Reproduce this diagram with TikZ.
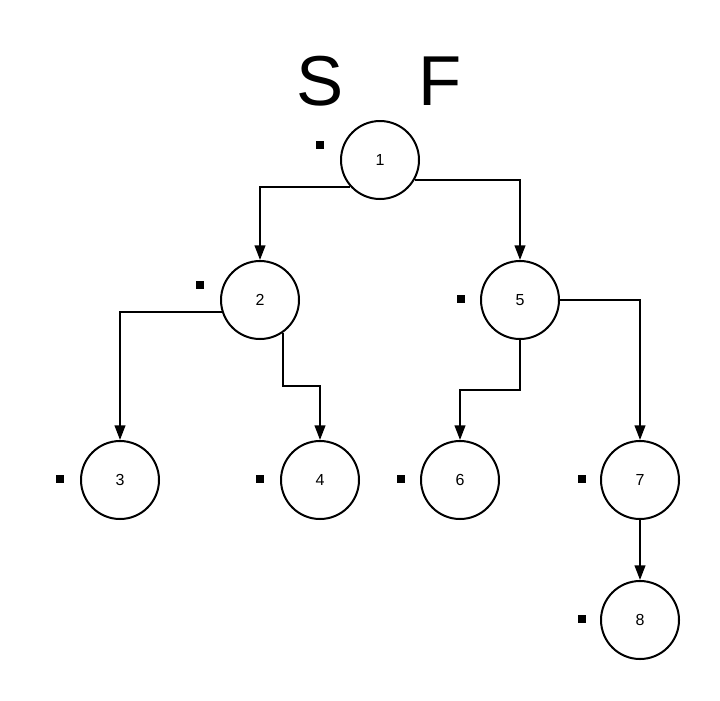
\documentclass[tikz,border=0pt]{standalone}
\usepackage{fontspec}
\setmainfont{Liberation Sans}
\usetikzlibrary{arrows.meta}
\begin{document}
\begin{tikzpicture}[x=0.75pt,y=-0.75pt,
  vertex/.style={circle,draw,line width=1.5pt,minimum size=58.5pt,inner sep=0pt,
    font=\fontsize{12}{14}\selectfont},
  dot/.style={fill=black,draw=none,minimum size=6pt,inner sep=0pt,rectangle},
  edge/.style={line width=1.5pt,-{Triangle[length=11pt,width=8pt]}},
  big/.style={font=\fontsize{53}{60}\selectfont,inner sep=0pt}]
  \useasboundingbox (0,0) rectangle (720,700);

  % headings
  \node[big,anchor=base] (hs) at (320,105) {S};
  \node[big,anchor=base] (hf) at (440,105) {F};

  % tree vertices
  \node[vertex] (n1) at (380,160) {1};
  \node[vertex] (n2) at (260,300) {2};
  \node[vertex] (n5) at (520,300) {5};
  \node[vertex] (n3) at (120,480) {3};
  \node[vertex] (n4) at (320,480) {4};
  \node[vertex] (n6) at (460,480) {6};
  \node[vertex] (n7) at (640,480) {7};
  \node[vertex] (n8) at (640,620) {8};

  % small square markers
  \node[dot] (d1) at (320,144.5) {};
  \node[dot] (d2) at (200,284.5) {};
  \node[dot] (d5) at (461,299) {};
  \node[dot] (d3) at (60,479) {};
  \node[dot] (d4) at (260,479) {};
  \node[dot] (d6) at (401,479) {};
  \node[dot] (d7) at (582,479) {};
  \node[dot] (d8) at (582,619) {};

  % bend points
  \coordinate (c24) at (320,386);
  \coordinate (c56) at (460,390);

  % connectors
  \draw[edge] (n1.222) -| (n2.north);
  \draw[edge] (n1.330) -| (n5.north);
  \draw[edge] (n2.198) -| (n3.north);
  \draw[edge] (n2.305) |- (c24) -- (n4.north);
  \draw[edge] (n5.south) |- (c56) -- (n6.north);
  \draw[edge] (n5.east) -| (n7.north);
  \draw[edge] (n7.south) -- (n8.north);
\end{tikzpicture}
\end{document}
